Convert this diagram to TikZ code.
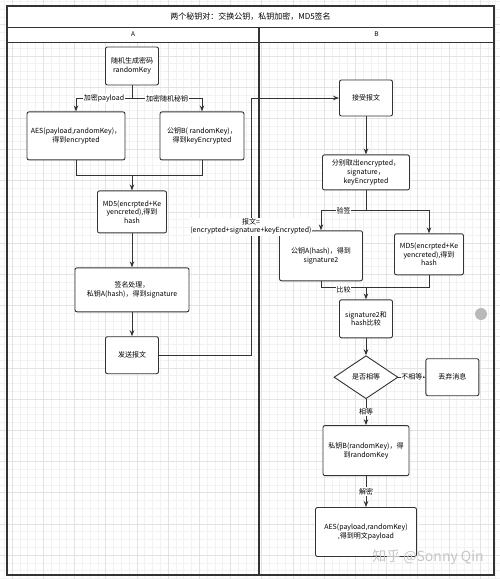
\documentclass[tikz,border=0pt]{standalone}
\usepackage{fontspec}
\newfontfamily\cjk{Noto Sans CJK SC}
\usetikzlibrary{positioning,shapes.geometric,arrows.meta}

\definecolor{ink}{HTML}{333333}
\definecolor{gridmaj}{HTML}{E3E3E3}
\definecolor{gridmin}{HTML}{F2F2F2}

\tikzset{
	proc/.style={draw=ink, line width=0.9pt, rounded corners=2pt, fill=white, align=center, inner sep=1pt, font=\cjk\fontsize{7}{8.6}\selectfont},
	cond/.style={diamond, draw=ink, line width=0.9pt, fill=white, inner sep=0pt, minimum width=64pt, minimum height=43pt, font=\cjk\fontsize{7}{8.6}\selectfont},
	lbl/.style={fill=white, inner sep=0.8pt, align=center, font=\cjk\fontsize{7}{8.6}\selectfont},
	link/.style={draw=ink, line width=0.9pt},
	flow/.style={link, -{Stealth[length=6pt,width=4.5pt]}},
}

\begin{document}
\begin{tikzpicture}[x=1pt, y=-1pt]
			\useasboundingbox (0,0) rectangle (500,579);
			\clip (0,0) rectangle (500,579);
			\fill[white] (0,0) rectangle (500,579);
			\draw[gridmin, line width=0.5pt, step=7.8pt, xshift=4.3pt, yshift=-1.2pt] (-20,-20) grid (520,600);
			\draw[gridmaj, line width=0.6pt, step=31.2pt, xshift=12.1pt, yshift=-24.6pt] (-40,-40) grid (540,620);

			\fill[white] (7,6) rectangle (494,42);
			\draw[ink, line width=1.2pt] (7,6) rectangle (494,575);
			\draw[ink, line width=1pt] (7,27) -- (494,27);
			\draw[ink, line width=1pt] (7,42) -- (494,42);
			\draw[ink, line width=1.2pt] (259,27) -- (259,575);
			\node[font=\cjk\fontsize{8}{9}\selectfont](title) at (250.5,16.5){两个秘钥对：交换公钥，私钥加密，MD5签名};
			\node[font=\cjk\fontsize{6.5}{8}\selectfont](laneA) at (133,34.5){A};
			\node[font=\cjk\fontsize{6.5}{8}\selectfont](laneB) at (376.5,34.5){B};

			
			\node[proc, minimum width=53pt, minimum height=38pt](rk) at (132,66){随机生成密码\\randomKey};
			\node[proc, minimum width=98pt, minimum height=48pt, below=26pt of rk, xshift=-56pt](aes){AES(payload,randomKey)，\\得到encrypted};
			\node[proc, minimum width=84pt, minimum height=48pt, below=26pt of rk, xshift=70pt](pkb){公钥B( randomKey)，\\得到keyEncrypted};
			\node[proc, minimum width=69pt, minimum height=42pt, below=105pt of rk](md5){MD5(encrpted+Ke\\yencreted),得到\\hash};
			\node[proc, minimum width=114pt, minimum height=44pt, below=34pt of md5](sgn){签名处理，\\私钥A(hash)，得到signature};
			\node[proc, minimum width=53pt, minimum height=37pt, below=24pt of sgn](send){发送报文};

			
			\node[proc, minimum width=53pt, minimum height=36pt](recv) at (366,98){接受报文};
			\node[proc, minimum width=87pt, minimum height=35pt, below=38pt of recv](split){分别取出encrypted，\\signature，\\keyEncrypted};
			\node[proc, minimum width=83pt, minimum height=50pt, below=40pt of split, xshift=-45pt](pka){公钥A(hash)，得到\\signature2};
			\node[proc, minimum width=69pt, minimum height=41pt, below=43pt of split, xshift=63pt](md5r){MD5(encrpted+Ke\\yencreted),得到\\hash};
			\node[proc, minimum width=53pt, minimum height=38pt, below=109pt of split](cmp){signature2和\\hash比较};
			\node[cond, below=17pt of cmp](eq){是否相等};
			\node[proc, minimum width=53pt, minimum height=37pt, right=27pt of eq](drop){丢弃消息};
			\node[proc, minimum width=86pt, minimum height=50pt, below=26pt of eq](skb){私钥B(randomKey)，得\\到randomKey};
			\node[proc, minimum width=101pt, minimum height=49pt, below=31pt of skb](dec){AES(payload,randomKey)\\,得到明文payload};

			
			\coordinate[below=13pt of rk](rkfork);
			\coordinate[above=15pt of md5](lmerge);
			\draw[link] (rk) -- (rkfork);
			\draw[flow] (rkfork) -| node[lbl, pos=0.25]{加密payload} (aes);
			\draw[flow] (rkfork) -| node[lbl, pos=0.25]{加密随机秘钥} (pkb);
			\draw[link] (aes) |- (lmerge) -| (pkb);
			\draw[flow] (lmerge) -- (md5);
			\draw[flow] (md5) -- (sgn);
			\draw[flow] (sgn) -- (send);
			\draw[flow] (send.east) -- ++(92,0) |- node[lbl, pos=0.25]{报文=\\(encrypted+signature+keyEncrypted)} (recv.west);

			
			\coordinate[below=20pt of split](rfork);
			\coordinate[above=12pt of cmp](rmerge);
			\draw[flow] (recv) -- (split);
			\draw[link] (split) -- (rfork);
			\draw[flow] (rfork) -| node[lbl, pos=0.25]{验签} (pka);
			\draw[flow] (rfork) -| (md5r);
			\draw[link] (pka) |- node[lbl, pos=0.75, yshift=-2pt]{比较} (rmerge) -| (md5r);
			\draw[flow] (rmerge) -- (cmp);
			\draw[flow] (cmp) -- (eq);
			\draw[flow] (eq) -- node[lbl]{不相等} (drop);
			\draw[flow] (eq) -- node[lbl]{相等} (skb);
			\draw[flow] (skb) -- node[lbl]{解密} (dec);

			\fill[gray!55] (481,314) circle (6pt);
			\node[text=gray!45, font=\cjk\fontsize{14}{16}\selectfont](mark) at (428,557){知乎 @Sonny Qin};
		\end{tikzpicture}
\end{document}
